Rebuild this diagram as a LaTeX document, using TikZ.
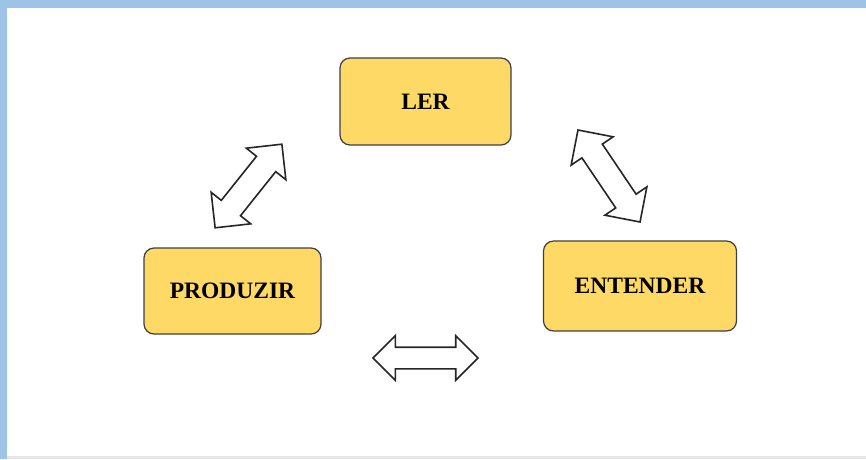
\documentclass[tikz,border=0pt]{standalone}
\usepackage{fontspec}
\setmainfont{Liberation Serif}
\usepackage{tikz}
\usetikzlibrary{shapes.arrows}
\definecolor{boxfill}{HTML}{FFD966}
\definecolor{boxline}{HTML}{3F3F3F}
\definecolor{frameblue}{HTML}{9DC3E6}
\definecolor{framegray}{HTML}{E6E6E6}
\tikzset{
  stage/.style={draw=boxline, line width=1.2pt, fill=boxfill, rounded corners=10pt,
    align=center, font=\fontsize{23.5}{25}\selectfont\bfseries},
  link/.style={draw=black!85, line width=1.6pt, fill=white, double arrow,
    inner xsep=0pt, inner ysep=11.5pt, double arrow head extend=13pt,
    double arrow tip angle=90}
}
\begin{document}
\begin{tikzpicture}[x=1pt, y=-1pt]
        % frame
        \fill[frameblue] (0,0) rectangle (866,459);
        \fill[framegray] (7,8) rectangle (866,459);
        \fill[white] (7,8) rectangle (866,456);
        \useasboundingbox (0,0) rectangle (866,459);
        % stages
        \node[stage, minimum width=171pt, minimum height=87pt] (ler) at (425.5,101.5) {LER};
        \node[stage, minimum width=177pt, minimum height=86pt] (produzir) at (232.5,291) {PRODUZIR};
        \node[stage, minimum width=193pt, minimum height=90pt] (entender) at (640,286) {ENTENDER};
        % links
        \node[link, minimum height=107pt, rotate=51.4] (a1) at (248.5,186) {};
        \node[link, minimum height=111pt, rotate=-56] (a2) at (609,176) {};
        \node[link, minimum height=105pt, inner ysep=10pt, double arrow head extend=11.5pt] (a3) at (425.5,358) {};
\end{tikzpicture}
\end{document}
